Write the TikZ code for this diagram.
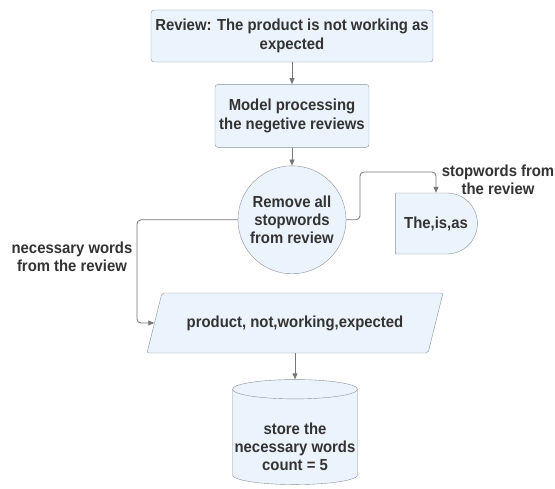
\documentclass[tikz,border=0pt]{standalone}
\usepackage{fontspec}
\setmainfont{Liberation Sans}[FakeStretch=0.93]
\usepackage{xcolor}
\usetikzlibrary{positioning,shapes.geometric,shapes.misc,arrows.meta}

\definecolor{boxfill}{HTML}{EBF3FC}
\definecolor{boxline}{HTML}{8C9099}
\definecolor{wordgray}{HTML}{333333}
\definecolor{flowgray}{HTML}{777777}

\begin{document}
\begin{tikzpicture}[x=1bp, y=-1bp,
    every node/.style = {font=\bfseries\fontsize{16bp}{18.4bp}\selectfont,
      text=wordgray, align=center, inner sep=0pt},
    procbox/.style = {shape=rectangle, rounded corners=3bp,
      draw=boxline, fill=boxfill},
    stopcircle/.style = {shape=circle, minimum size=108bp,
      draw=boxline, fill=boxfill},
    delaybox/.style = {shape=rounded rectangle,
      rounded rectangle left arc=none,
      draw=boxline, fill=boxfill},
    iobox/.style = {shape=trapezium, trapezium left angle=76,
      trapezium right angle=104, trapezium stretches body=true,
      inner ysep=22.5bp, rounded corners=2bp, draw=boxline, fill=boxfill},
    storebox/.style = {shape=cylinder, shape border rotate=90, aspect=0.16,
      draw=boxline, fill=boxfill},
    flow/.style = {draw=flowgray, line width=0.8bp, rounded corners=4bp,
      -{Triangle[length=6bp,width=5bp]}}
    ]
    \useasboundingbox (0,0) rectangle (555,489);

    \node[procbox, minimum width=282bp, minimum height=52bp] (review) at (292,36)
        {Review: The product is not working as\\expected};
    \node[procbox, below=22bp of review, minimum width=154bp, minimum height=63bp] (model)
        {Model processing\\the negetive reviews};
    \node[stopcircle, below=18bp of model] (remove)
        {Remove all\\stopwords\\from review};
    \node[delaybox, minimum width=82bp, minimum height=61bp] (stop) at (436,223.5)
        {The,is,as};
    \node[iobox, minimum width=296bp] (words) at (295,323)
        {product, not,working,expected};
    \node[storebox, minimum width=125bp, minimum height=105bp, text height=68bp]
        (store) at (295,437) {store the\\necessary words\\count = 5};

    % edge labels
    \node (stoplabel) at (498,180) {stopwords from\\the review};
    \node (wordslabel) at (72,257) {necessary words\\from the review};

    % bends of the side branches
    \coordinate (leftbend) at (137,270);
    \coordinate (rightup) at (360,172);

    \draw[flow] (review) -- (model);
    \draw[flow] (model) -- (remove);
    \draw[flow] (remove.west) -| (leftbend) |- (words.west);
    \draw[flow] (remove.east) -| (rightup) -| (stop.north);
    \draw[flow] (words.south -| store.north) -- (store.north);
\end{tikzpicture}
\end{document}
